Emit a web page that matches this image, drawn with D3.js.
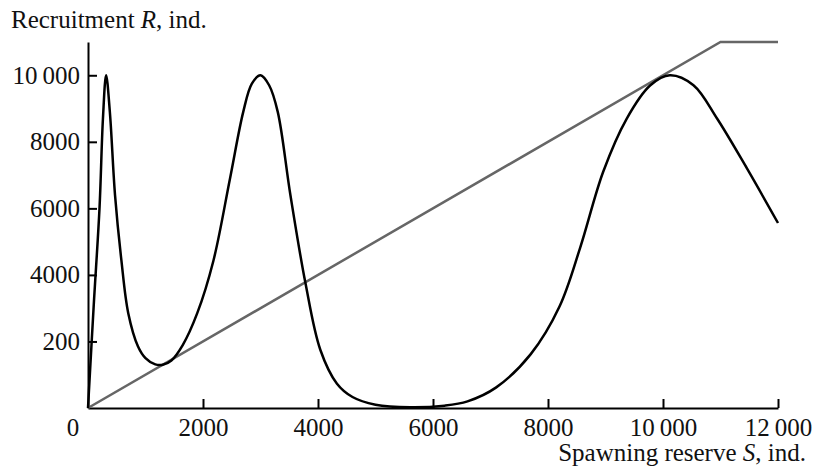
<!DOCTYPE html>
<html>
<head>
    <title>Recruitment vs spawning reserve</title>
</head>
<body>
<style type="text/css">
    body {
        margin: 0;
        background: #fff;
    }

    #renderer {
        width: 813px;
        height: 468px;
        background: #FFF;
        display: block;
    }

    text {
        font-family: "Liberation Serif", "Times New Roman", serif;
        font-size: 25px;
        fill: #111;
    }
</style>
<script type="text/javascript" src="https://cdnjs.cloudflare.com/ajax/libs/d3/7.8.5/d3.min.js"></script>
<svg id='renderer'></svg>

<script type="text/javascript">
    // values
    var spawning = [0, 100, 200, 260, 315, 380, 470, 580, 700, 870, 1000, 1170, 1300, 1450, 1650, 1900, 2180, 2470, 2700, 2850, 3000,
        3150, 3300, 3520, 3780, 4040, 4330, 4600, 5000, 5600, 6200, 6600, 7100, 7700, 8200, 8560, 8960, 9370, 9780, 10120, 10530, 10940, 11460, 12000];
    var recruitment = [0, 3100, 6000, 8700, 10000, 8900, 6400, 4450, 2850, 1850, 1500, 1310, 1300, 1430, 1900, 2850, 4420, 6900, 8900, 9750, 10000,
        9700, 8900, 6400, 3770, 1750, 730, 330, 100, 20, 70, 200, 620, 1620, 3050, 4820, 7100, 8700, 9700, 10000, 9700, 8700, 7200, 5560];

    // replacement line R = S, capped
    var lineS = [0, 11000, 12000];
    var lineR = [0, 11000, 11000];

    var xTickValues = [2000, 4000, 6000, 8000, 10000, 12000];
    var xTickLabels = ['2000', '4000', '6000', '8000', '10\u2009000', '12\u2009000'];
    var yTickValues = [2000, 4000, 6000, 8000, 10000];
    var yTickLabels = ['200', '4000', '6000', '8000', '10\u2009000'];

    var totalWidth = 813;
    var totalHeight = 468;
    var paddingLeft = 88;
    var paddingRight = 35;
    var paddingTop = 42;
    var paddingBottom = 60;

    var root = d3.select('#renderer');

    var x = d3.scaleLinear()
        .domain([0, 12000])
        .range([paddingLeft, totalWidth - paddingRight]);

    var y = d3.scaleLinear()
        .domain([0, 11000])
        .range([totalHeight - paddingBottom, paddingTop]);

    // axes, ticks point inwards
    var xAxis = root.append('g')
        .attr('transform', 'translate(0,' + y(0) + ')')
        .call(d3.axisBottom(x)
            .tickValues(xTickValues)
            .tickFormat(function (d, i) { return xTickLabels[i]; })
            .tickSizeInner(-9)
            .tickSizeOuter(0)
            .tickPadding(8));

    var yAxis = root.append('g')
        .attr('transform', 'translate(' + x(0) + ',0)')
        .call(d3.axisLeft(y)
            .tickValues(yTickValues)
            .tickFormat(function (d, i) { return yTickLabels[i]; })
            .tickSizeInner(-9)
            .tickSizeOuter(0)
            .tickPadding(8));

    root.selectAll('.domain, .tick line')
        .attr('stroke', '#000')
        .attr('stroke-width', 2);
    root.selectAll('.tick text')
        .attr('font-family', null)
        .attr('font-size', null)
        .attr('fill', null);
    xAxis.selectAll('.tick text').attr('dy', '0.8em');

    // zero label sits left of the corner
    root.append('text')
        .text('0')
        .attr('x', x(0) - 15)
        .attr('y', y(0) + 28)
        .attr('text-anchor', 'middle');

    // gray line
    var grayLine = d3.line()
        .x(function (d, i) { return x(lineS[i]); })
        .y(function (d, i) { return y(lineR[i]); });

    root.append('path')
        .attr('d', grayLine(lineS))
        .attr('fill', 'none')
        .attr('stroke', '#666')
        .attr('stroke-width', 2.5);

    // recruitment curve
    var curve = d3.line()
        .x(function (d, i) { return x(spawning[i]); })
        .y(function (d, i) { return y(recruitment[i]); })
        .curve(d3.curveCatmullRom.alpha(0.5));

    root.append('path')
        .attr('d', curve(spawning))
        .attr('fill', 'none')
        .attr('stroke', '#000')
        .attr('stroke-width', 2.5)
        .attr('stroke-linejoin', 'round');

    // axis titles
    var title = root.append('text')
        .attr('x', 11)
        .attr('y', 28)
        .attr('font-size', 26);
    title.append('tspan').text('Recruitment ');
    title.append('tspan').text('R').attr('font-style', 'italic');
    title.append('tspan').text(', ind.');

    var xTitle = root.append('text')
        .attr('x', 806)
        .attr('y', 461)
        .attr('text-anchor', 'end')
        .attr('font-size', 26);
    xTitle.append('tspan').text('Spawning reserve ');
    xTitle.append('tspan').text('S').attr('font-style', 'italic');
    xTitle.append('tspan').text(', ind.');
</script>
</body>
</html>
